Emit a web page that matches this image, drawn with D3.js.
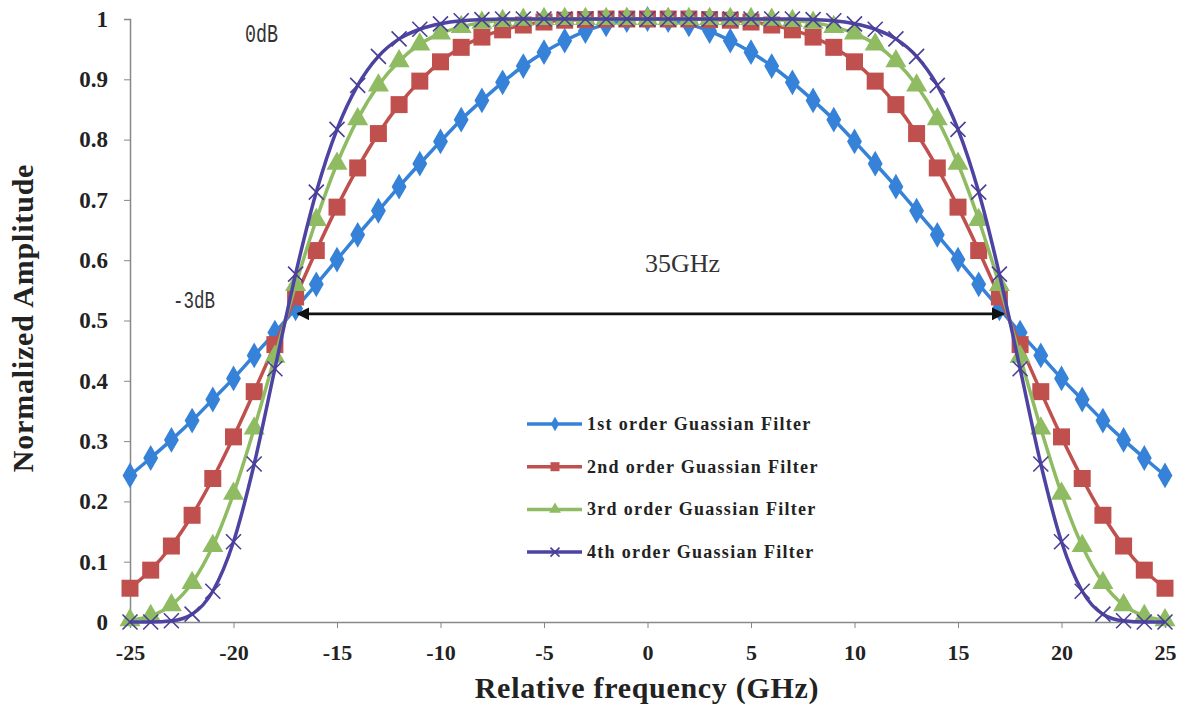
<html>
<head>
  <meta charset="utf-8">
  <title>Gaussian Filter Orders</title>
  <script src="https://d3js.org/d3.v7.min.js"></script>
  <style>
    body { margin: 0; background: #ffffff; }
    text { font-family: "Liberation Serif", "Times New Roman", serif; }
  </style>
</head>
<body>
  <svg id="chart" width="1180" height="714"></svg>
  <script>
    // relative frequency in GHz
    const freq = d3.range(-25, 26);

    // values, -25 .. 25 GHz
    const order1 = [0.243, 0.272, 0.302, 0.334, 0.369, 0.404, 0.442, 0.480, 0.520, 0.560, 0.601, 0.642, 0.682, 0.722, 0.760, 0.797,
      0.833, 0.865, 0.895, 0.922, 0.945, 0.964, 0.980, 0.991, 0.998, 1.000, 0.998, 0.991, 0.980, 0.964, 0.945, 0.922, 0.895, 0.865,
      0.833, 0.797, 0.760, 0.722, 0.682, 0.642, 0.601, 0.560, 0.520, 0.480, 0.442, 0.404, 0.369, 0.334, 0.302, 0.272, 0.243];
    const order2 = [0.056, 0.086, 0.126, 0.177, 0.238, 0.307, 0.382, 0.460, 0.539, 0.616, 0.688, 0.753, 0.810, 0.858, 0.897, 0.929,
      0.953, 0.970, 0.982, 0.990, 0.995, 0.998, 0.999, 1.000, 1.000, 1.000, 1.000, 1.000, 0.999, 0.998, 0.995, 0.990, 0.982, 0.970,
      0.953, 0.929, 0.897, 0.858, 0.810, 0.753, 0.688, 0.616, 0.539, 0.460, 0.382, 0.307, 0.238, 0.177, 0.126, 0.086, 0.056];
    const order3 = [0.003, 0.010, 0.028, 0.065, 0.126, 0.213, 0.321, 0.440, 0.559, 0.667, 0.760, 0.834, 0.890, 0.930, 0.958, 0.976,
      0.987, 0.994, 0.997, 0.999, 1.000, 1.000, 1.000, 1.000, 1.000, 1.000, 1.000, 1.000, 1.000, 1.000, 1.000, 0.999, 0.997, 0.994,
      0.987, 0.976, 0.958, 0.930, 0.890, 0.834, 0.760, 0.667, 0.559, 0.440, 0.321, 0.213, 0.126, 0.065, 0.028, 0.010, 0.003];
    const order4 = [0.000, 0.000, 0.002, 0.013, 0.051, 0.133, 0.262, 0.420, 0.577, 0.713, 0.817, 0.890, 0.938, 0.967, 0.983, 0.992,
      0.997, 0.999, 1.000, 1.000, 1.000, 1.000, 1.000, 1.000, 1.000, 1.000, 1.000, 1.000, 1.000, 1.000, 1.000, 1.000, 1.000, 0.999,
      0.997, 0.992, 0.983, 0.967, 0.938, 0.890, 0.817, 0.713, 0.577, 0.420, 0.262, 0.133, 0.051, 0.013, 0.002, 0.000, 0.000];

    const seriesNames = ["1st order Guassian Filter", "2nd order Guassian Filter", "3rd order Guassian Filter", "4th order Guassian Filter"];
    const xTicks = [-25, -20, -15, -10, -5, 0, 5, 10, 15, 20, 25];
    const yTicks = [0, 0.1, 0.2, 0.3, 0.4, 0.5, 0.6, 0.7, 0.8, 0.9, 1];

    const colors = ["#3582d8", "#c0504d", "#8fbc63", "#4d43a3"];
    const markers = ["diamond", "square", "triangle", "cross"];

    const svg = d3.select("#chart");
    const x = d3.scaleLinear().domain([-25, 25]).range([130, 1165]);
    const y = d3.scaleLinear().domain([0, 1]).range([622, 19]);

    // axes
    const yAxis = svg.append("g")
      .attr("transform", `translate(${x(-25)},0)`)
      .call(d3.axisLeft(y).tickValues(yTicks).tickSize(6).tickPadding(16).tickFormat(d => String(d)));
    const xAxis = svg.append("g")
      .attr("transform", `translate(0,${y(0)})`)
      .call(d3.axisBottom(x).tickValues(xTicks).tickSize(6).tickPadding(16).tickFormat(d => String(d)));
    [xAxis, yAxis].forEach(a => {
      a.select(".domain").attr("stroke", "#888").attr("stroke-width", 1.5);
      a.selectAll(".tick line").attr("stroke", "#888");
      a.selectAll(".tick text")
        .attr("fill", "#222")
        .style("font-weight", "bold")
        .style("font-family", "'Liberation Serif', serif");
    });
    yAxis.selectAll(".tick text").style("font-size", "23px");
    xAxis.selectAll(".tick text").style("font-size", "22px");

    svg.append("text")
      .attr("transform", "translate(33,318) rotate(-90)")
      .attr("text-anchor", "middle")
      .attr("fill", "#222")
      .style("font-size", "30px")
      .style("font-weight", "bold")
      .style("letter-spacing", "0.8px")
      .text("Normalized Amplitude");

    svg.append("text")
      .attr("x", 647).attr("y", 698)
      .attr("text-anchor", "middle")
      .attr("fill", "#222")
      .style("font-size", "30px")
      .style("font-weight", "bold")
      .style("letter-spacing", "0.7px")
      .text("Relative frequency (GHz)");

    // marker drawing
    function drawMarker(g, type, color, size) {
      if (type === "cross") {
        const h = size / 2;
        g.append("path")
          .attr("d", `M${-h},${-h}L${h},${h}M${-h},${h}L${h},${-h}`)
          .attr("stroke", color).attr("stroke-width", 1.6).attr("fill", "none");
      } else {
        const sym = type === "diamond" ? d3.symbolDiamond : type === "square" ? d3.symbolSquare : d3.symbolTriangle;
        g.append("path")
          .attr("d", d3.symbol().type(sym).size(size * size * (type === "square" ? 1 : 0.75))())
          .attr("fill", color);
      }
    }

    const allSeries = [order1, order2, order3, order4];
    const markerSize = [16, 17, 16, 15];
    const line = d3.line().x((d, i) => x(freq[i])).y(d => y(d)).curve(d3.curveMonotoneX);

    allSeries.forEach((vals, s) => {
      const g = svg.append("g");
      g.append("path")
        .datum(vals)
        .attr("d", line)
        .attr("fill", "none")
        .attr("stroke", colors[s])
        .attr("stroke-width", 3.5);
      vals.forEach((v, i) => {
        const m = g.append("g").attr("transform", `translate(${x(freq[i])},${y(v)})`);
        drawMarker(m, markers[s], s === 3 ? "#4a3f96" : colors[s], markerSize[s]);
      });
    });

    // annotations
    svg.append("text").attr("x", 245).attr("y", 42).attr("fill", "#333")
      .style("font-family", "'Liberation Mono', monospace").style("font-size", "25px")
      .attr("textLength", 33).attr("lengthAdjust", "spacingAndGlyphs")
      .text("0dB");
    svg.append("text").attr("x", 173).attr("y", 308).attr("fill", "#333")
      .style("font-family", "'Liberation Mono', monospace").style("font-size", "23px")
      .attr("textLength", 42).attr("lengthAdjust", "spacingAndGlyphs")
      .text("-3dB");
    svg.append("text").attr("x", 645).attr("y", 272).attr("fill", "#333")
      .style("font-size", "26px").text("35GHz");

    svg.append("defs").append("marker")
      .attr("id", "arrowHead")
      .attr("viewBox", "0 0 10 10").attr("refX", 9).attr("refY", 5)
      .attr("markerWidth", 5).attr("markerHeight", 5)
      .attr("orient", "auto-start-reverse")
      .append("path").attr("d", "M0,0L10,5L0,10z").attr("fill", "#111");
    svg.append("line")
      .attr("x1", x(-16.9)).attr("x2", x(17.2))
      .attr("y1", y(0.511)).attr("y2", y(0.511))
      .attr("stroke", "#111").attr("stroke-width", 2.6)
      .attr("marker-start", "url(#arrowHead)").attr("marker-end", "url(#arrowHead)");

    // legend
    const legend = svg.append("g");
    seriesNames.forEach((name, s) => {
      const ly = 424 + s * 42.7;
      legend.append("line")
        .attr("x1", 527).attr("x2", 582).attr("y1", ly).attr("y2", ly)
        .attr("stroke", colors[s]).attr("stroke-width", 3.5);
      const m = legend.append("g").attr("transform", `translate(555,${ly})`);
      drawMarker(m, markers[s], s === 3 ? "#4a3f96" : colors[s], 9);
      legend.append("text")
        .attr("x", 587).attr("y", ly + 6)
        .attr("fill", "#222")
        .style("font-size", "18px")
        .style("font-weight", "bold")
        .style("letter-spacing", "1.3px")
        .text(name);
    });
  </script>
</body>
</html>
